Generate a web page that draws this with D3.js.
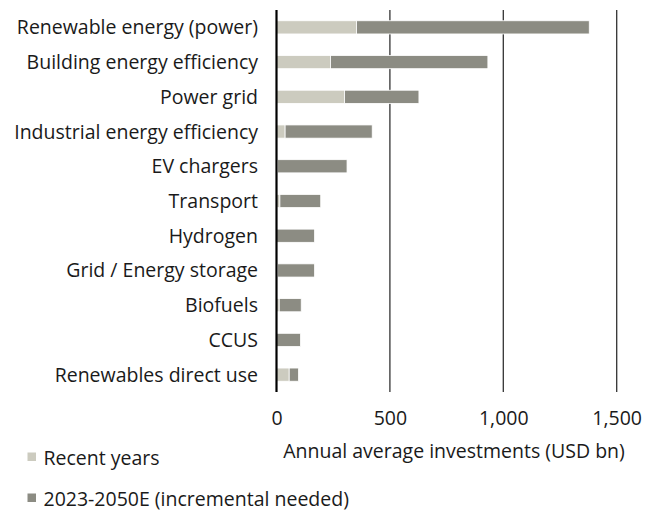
<html>
<head>
<meta charset="utf-8">
<script src="https://d3js.org/d3.v7.min.js"></script>
<style>
  body { margin: 0; background: #fff; }
  text { font-family: "Open Sans", sans-serif; fill: #1a1a1a; }
</style>
</head>
<body>
<div id="chart"></div>
<script>
// categories, top to bottom
const categories = ["Renewable energy (power)", "Building energy efficiency", "Power grid",
  "Industrial energy efficiency", "EV chargers", "Transport", "Hydrogen",
  "Grid / Energy storage", "Biofuels", "CCUS", "Renewables direct use"];
// USD bn, annual average
const recentYears = [353, 238, 300, 38, 5, 15, 0, 5, 12, 0, 56];
const incremental = [1026, 694, 328, 384, 306, 180, 168, 163, 97, 106, 41];
const xTicks = [0, 500, 1000, 1500];
const seriesNames = ["Recent years", "2023-2050E (incremental needed)"];
const colors = ["#cccbbf", "#8c8c83"];

let w = 659, h = 510;
let fs = "19.5px";
let svg = d3.select("#chart").append("svg").attr("width", w).attr("height", h);

let x = d3.scaleLinear().domain([0, 1500]).range([276.5, 616.7]);
let y = d3.scaleBand().domain(categories).range([10, 392])
    .paddingInner(0.62).paddingOuter(0.31);

// gridlines
svg.selectAll("line.grid").data(xTicks.slice(1)).enter()
  .append("line").attr("class", "grid")
  .attr("x1", d => x(d)).attr("x2", d => x(d))
  .attr("y1", 10).attr("y2", 392)
  .attr("stroke", "#333").attr("stroke-width", 1.3);

// stacked bars
let rows = categories.map((c, i) => ({ cat: c, a: recentYears[i], b: incremental[i] }));

svg.selectAll("rect.recent").data(rows.filter(d => d.a > 0)).enter()
  .append("rect").attr("class", "recent")
  .attr("x", x(0)).attr("y", d => y(d.cat))
  .attr("width", d => x(d.a) - x(0)).attr("height", y.bandwidth())
  .attr("fill", colors[0]).attr("stroke", "#fff").attr("stroke-width", 0.8);

svg.selectAll("rect.incr").data(rows).enter()
  .append("rect").attr("class", "incr")
  .attr("x", d => x(d.a)).attr("y", d => y(d.cat))
  .attr("width", d => x(d.a + d.b) - x(d.a)).attr("height", y.bandwidth())
  .attr("fill", colors[1]).attr("stroke", "#fff").attr("stroke-width", 0.8);

// y axis
let yAxis = svg.append("g").attr("transform", "translate(" + x(0) + ",0)")
  .call(d3.axisLeft(y).tickSize(0).tickPadding(18.5));
yAxis.select(".domain").remove();
yAxis.selectAll("text").style("font-size", fs).attr("dy", "0.36em")
  .style("font-family", "'Open Sans', sans-serif").attr("fill", "#1a1a1a");

svg.append("line")
  .attr("x1", x(0)).attr("x2", x(0)).attr("y1", 10).attr("y2", 392)
  .attr("stroke", "#000").attr("stroke-width", 2.2);

// x axis
let xAxis = svg.append("g").attr("transform", "translate(0,392)")
  .call(d3.axisBottom(x).tickValues(xTicks).tickSize(0).tickPadding(19)
    .tickFormat(d3.format(",")));
xAxis.select(".domain").remove();
xAxis.selectAll("text").style("font-size", fs)
  .style("font-family", "'Open Sans', sans-serif").attr("fill", "#1a1a1a");

svg.append("text")
  .attr("x", 454).attr("y", 457.5).attr("text-anchor", "middle")
  .style("font-size", fs)
  .text("Annual average investments (USD bn)");

// legend
let leg = svg.selectAll("g.leg").data(seriesNames).enter()
  .append("g").attr("class", "leg")
  .attr("transform", (d, i) => "translate(27.5," + (452.5 + i * 41) + ")");
leg.append("rect").attr("width", 8.5).attr("height", 8.5)
  .attr("fill", (d, i) => colors[i]);
leg.append("text").attr("x", 16).attr("y", 12)
  .style("font-size", fs).text(d => d);
</script>
</body>
</html>
